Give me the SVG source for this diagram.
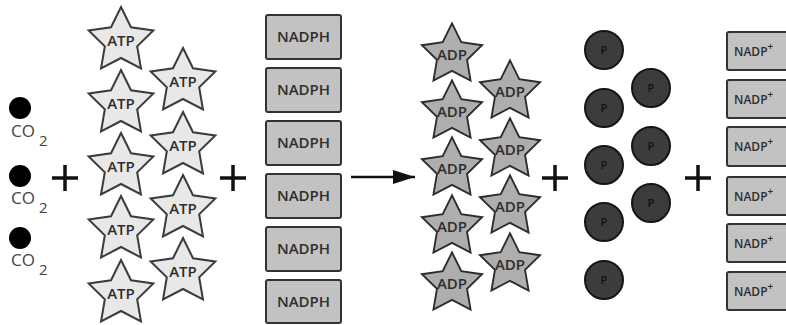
<svg xmlns="http://www.w3.org/2000/svg" xmlns:xlink="http://www.w3.org/1999/xlink" width="786" height="325" viewBox="0 0 786 325">
<style>
  text { font-family: "Open Sans", "Liberation Sans", sans-serif; fill: #2e2e2e; text-anchor: middle; font-weight: 600; }
  .co2dot { fill: #000; }
  .co2 { font-size: 17px; fill: #444; text-anchor: start; font-weight: 400; }
  .sub { font-size: 15px; fill: #444; text-anchor: start; font-weight: 400; }
  .atp { fill: #e8e8e8; stroke: #3c3c3c; stroke-width: 2; stroke-linejoin: miter; }
  .adp { fill: #aeaeae; stroke: #2c2c2c; stroke-width: 2; }
  .lbl { font-size: 15px; }
  .box { fill: #c2c2c2; stroke: #333; stroke-width: 2; }
  .pc { fill: #3c3c3c; stroke: #151515; stroke-width: 2; }
  .ptxt { font-size: 11px; fill: #111; }
  .nadp { font-size: 12px; text-anchor: start; }
  .plus { stroke: #111; stroke-width: 3.5; fill: none; }
  .arrow { stroke: #111; stroke-width: 2.5; fill: none; }
</style>
<defs>
  <path id="star" d="M0,-34 L9.99,-13.75 L32.34,-10.51 L16.17,5.25 L19.98,27.51 L0,17 L-19.98,27.51 L-16.17,5.25 L-32.34,-10.51 L-9.99,-13.75 Z"/>
  <marker id="ah" markerWidth="22" markerHeight="14" refX="22" refY="7" orient="auto" markerUnits="userSpaceOnUse" viewBox="0 0 22 14">
    <path d="M0,0 L22,7 L0,14 Z" fill="#111"/>
  </marker>
</defs>

<g id="co2-1"><circle class="co2dot" cx="20" cy="108" r="11"/><text class="co2" x="11" y="137">CO</text><text class="sub" x="39" y="146">2</text></g>
<g id="co2-2"><circle class="co2dot" cx="20" cy="176" r="11"/><text class="co2" x="11" y="204">CO</text><text class="sub" x="39" y="213">2</text></g>
<g id="co2-3"><circle class="co2dot" cx="20" cy="238" r="11"/><text class="co2" x="11" y="266">CO</text><text class="sub" x="39" y="275">2</text></g>

<g id="plus-1"><path class="plus" d="M52,178 H78 M65,165 V191"/></g>

<g id="atp-1"><use href="#star" class="atp" x="121" y="41"/><text class="lbl" x="121" y="46">ATP</text></g>
<g id="atp-2"><use href="#star" class="atp" x="121" y="104"/><text class="lbl" x="121" y="109">ATP</text></g>
<g id="atp-3"><use href="#star" class="atp" x="121" y="167"/><text class="lbl" x="121" y="172">ATP</text></g>
<g id="atp-4"><use href="#star" class="atp" x="121" y="230"/><text class="lbl" x="121" y="235">ATP</text></g>
<g id="atp-5"><use href="#star" class="atp" x="121" y="294"/><text class="lbl" x="121" y="299">ATP</text></g>
<g id="atp-6"><use href="#star" class="atp" x="183" y="82"/><text class="lbl" x="183" y="87">ATP</text></g>
<g id="atp-7"><use href="#star" class="atp" x="183" y="146"/><text class="lbl" x="183" y="151">ATP</text></g>
<g id="atp-8"><use href="#star" class="atp" x="183" y="209"/><text class="lbl" x="183" y="214">ATP</text></g>
<g id="atp-9"><use href="#star" class="atp" x="183" y="272"/><text class="lbl" x="183" y="277">ATP</text></g>

<g id="plus-2"><path class="plus" d="M220,178 H246 M233,165 V191"/></g>

<g id="nadph-1"><rect class="box" x="266" y="15" width="75" height="44" rx="2"/><text class="lbl" x="303.5" y="42">NADPH</text></g>
<g id="nadph-2"><rect class="box" x="266" y="68" width="75" height="44" rx="2"/><text class="lbl" x="303.5" y="95">NADPH</text></g>
<g id="nadph-3"><rect class="box" x="266" y="121" width="75" height="44" rx="2"/><text class="lbl" x="303.5" y="148">NADPH</text></g>
<g id="nadph-4"><rect class="box" x="266" y="174" width="75" height="44" rx="2"/><text class="lbl" x="303.5" y="201">NADPH</text></g>
<g id="nadph-5"><rect class="box" x="266" y="227" width="75" height="44" rx="2"/><text class="lbl" x="303.5" y="254">NADPH</text></g>
<g id="nadph-6"><rect class="box" x="266" y="280" width="75" height="43" rx="2"/><text class="lbl" x="303.5" y="307">NADPH</text></g>

<g id="connectors">
  <line class="arrow" x1="351" y1="177" x2="415" y2="177" marker-end="url(#ah)"/>
</g>

<g id="adp-1"><use href="#star" class="adp" transform="translate(452,55) scale(0.93)"/><text class="lbl" x="452" y="60">ADP</text></g>
<g id="adp-2"><use href="#star" class="adp" transform="translate(452,112) scale(0.93)"/><text class="lbl" x="452" y="117">ADP</text></g>
<g id="adp-3"><use href="#star" class="adp" transform="translate(452,169) scale(0.93)"/><text class="lbl" x="452" y="174">ADP</text></g>
<g id="adp-4"><use href="#star" class="adp" transform="translate(452,227) scale(0.93)"/><text class="lbl" x="452" y="232">ADP</text></g>
<g id="adp-5"><use href="#star" class="adp" transform="translate(452,284) scale(0.93)"/><text class="lbl" x="452" y="289">ADP</text></g>
<g id="adp-6"><use href="#star" class="adp" transform="translate(510,92) scale(0.93)"/><text class="lbl" x="510" y="97">ADP</text></g>
<g id="adp-7"><use href="#star" class="adp" transform="translate(510,150) scale(0.93)"/><text class="lbl" x="510" y="155">ADP</text></g>
<g id="adp-8"><use href="#star" class="adp" transform="translate(510,207) scale(0.93)"/><text class="lbl" x="510" y="212">ADP</text></g>
<g id="adp-9"><use href="#star" class="adp" transform="translate(510,265) scale(0.93)"/><text class="lbl" x="510" y="270">ADP</text></g>

<g id="plus-3"><path class="plus" d="M542,178 H568 M555,165 V191"/></g>

<g id="p-1"><circle class="pc" cx="604" cy="50" r="19"/><text class="ptxt" x="604" y="54">P</text></g>
<g id="p-2"><circle class="pc" cx="604" cy="108" r="19"/><text class="ptxt" x="604" y="112">P</text></g>
<g id="p-3"><circle class="pc" cx="604" cy="165" r="19"/><text class="ptxt" x="604" y="169">P</text></g>
<g id="p-4"><circle class="pc" cx="604" cy="222" r="19"/><text class="ptxt" x="604" y="226">P</text></g>
<g id="p-5"><circle class="pc" cx="604" cy="280" r="19"/><text class="ptxt" x="604" y="284">P</text></g>
<g id="p-6"><circle class="pc" cx="651" cy="88" r="19"/><text class="ptxt" x="651" y="92">P</text></g>
<g id="p-7"><circle class="pc" cx="651" cy="146" r="19"/><text class="ptxt" x="651" y="150">P</text></g>
<g id="p-8"><circle class="pc" cx="651" cy="203" r="19"/><text class="ptxt" x="651" y="207">P</text></g>

<g id="plus-4"><path class="plus" d="M685,178 H711 M698,165 V191"/></g>

<g id="nadp-1"><rect class="box" x="727" y="32" width="70" height="38" rx="2"/><text class="nadp" x="734" y="56">NADP<tspan dy="-6" font-size="10">+</tspan></text></g>
<g id="nadp-2"><rect class="box" x="727" y="80" width="70" height="38" rx="2"/><text class="nadp" x="734" y="104">NADP<tspan dy="-6" font-size="10">+</tspan></text></g>
<g id="nadp-3"><rect class="box" x="727" y="127" width="70" height="39" rx="2"/><text class="nadp" x="734" y="151">NADP<tspan dy="-6" font-size="10">+</tspan></text></g>
<g id="nadp-4"><rect class="box" x="727" y="177" width="70" height="38" rx="2"/><text class="nadp" x="734" y="201">NADP<tspan dy="-6" font-size="10">+</tspan></text></g>
<g id="nadp-5"><rect class="box" x="727" y="224" width="70" height="38" rx="2"/><text class="nadp" x="734" y="248">NADP<tspan dy="-6" font-size="10">+</tspan></text></g>
<g id="nadp-6"><rect class="box" x="727" y="272" width="70" height="38" rx="2"/><text class="nadp" x="734" y="296">NADP<tspan dy="-6" font-size="10">+</tspan></text></g>
</svg>
